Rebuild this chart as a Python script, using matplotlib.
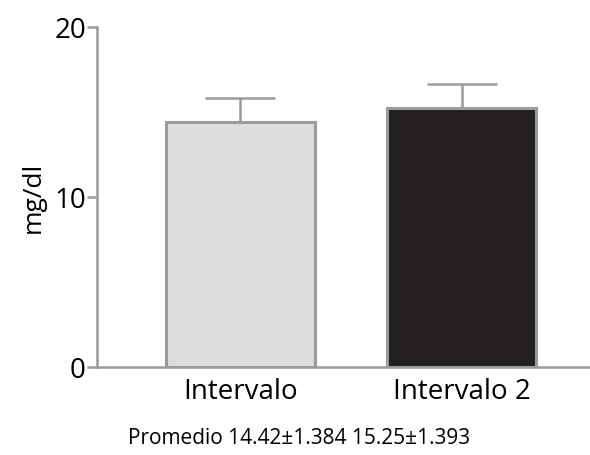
import matplotlib
matplotlib.use("Agg")
import matplotlib.pyplot as plt

categories = ["Intervalo", "Intervalo 2"]
means = [14.42, 15.25]
sems = [1.384, 1.393]
fill_colors = ["#dcdddf", "#231f20"]
y_ticks = [0, 10, 20]
summary = "Promedio 14.42\u00b11.384 15.25\u00b11.393"

plt.rcParams["font.family"] = ["Open Sans", "DejaVu Sans"]
gray = "#9a9b9d"

fig = plt.figure(figsize=(5.9, 4.55), dpi=100)
ax = fig.add_axes([97 / 590, (455 - 367) / 455, 1 - 97 / 590, (367 - 27) / 455])

x = list(range(len(categories)))
ax.bar(x, means, width=0.674, color=fill_colors, edgecolor=gray, linewidth=2.2, zorder=2)
for xi, m, s in zip(x, means, sems):
    ax.errorbar(xi, m, yerr=[[0], [s]], fmt="none", ecolor=gray, elinewidth=1.8,
                capsize=25, capthick=1.8, zorder=1)

ax.set_xlim(-0.649, 1.581)
ax.set_ylim(0, 20)
ax.set_yticks(y_ticks)
ax.set_yticklabels([str(t) for t in y_ticks], fontsize=20)
ax.set_xticks(x)
ax.set_xticklabels(categories, fontsize=20)
ax.tick_params(axis="x", length=0, pad=8)
ax.tick_params(axis="y", length=7, width=1.8, color=gray, pad=1)
ax.set_ylabel("mg/dl", fontsize=19, labelpad=6)

for side in ("top", "right"):
    ax.spines[side].set_visible(False)
for side in ("left", "bottom"):
    ax.spines[side].set_color(gray)
    ax.spines[side].set_linewidth(1.8)

fig.text(299, 455 - 439, summary, transform=None, fontsize=15, ha="center", va="center")

fig.savefig("out.png", dpi=100)
